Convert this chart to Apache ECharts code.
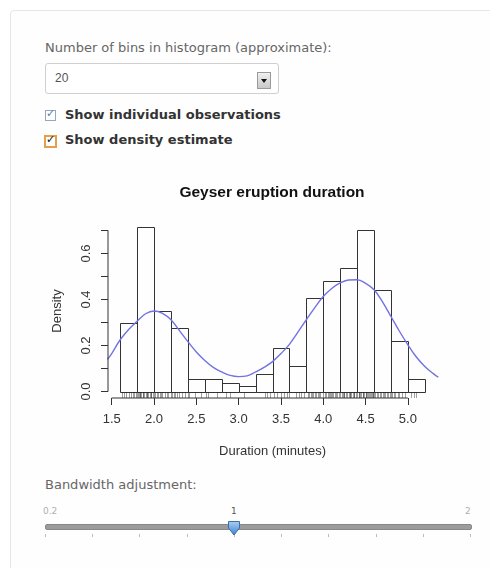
<!DOCTYPE html>
<html>
<head>
<meta charset="utf-8">
<script src="https://cdn.jsdelivr.net/npm/echarts@6/dist/echarts.min.js"></script>
<style>
  html, body { margin: 0; padding: 0; width: 490px; height: 568px; overflow: hidden; background: #fff; font-family: "DejaVu Sans", sans-serif; }
  .well { position: absolute; left: 10px; top: 10px; width: 500px; height: 580px; border: 1px solid #e6e6e6; border-radius: 4px; background: #fefefe; }
  .lbl { position: absolute; left: 45px; font-size: 13px; line-height: 16px; color: #666; white-space: nowrap; }
  .select { position: absolute; left: 45px; top: 63px; width: 232px; height: 29px; border: 1px solid #cfcfcf; border-radius: 3px; background: #fff; }
  .select span { position: absolute; left: 9px; top: 7px; font: 12px "Liberation Sans", sans-serif; color: #555; }
  .arrow { position: absolute; left: 211px; top: 8px; width: 12px; height: 15px; border: 1px solid #9a9a9a; background: linear-gradient(#f0f0f0, #c8c8c8); }
  .arrow:after { content: ""; position: absolute; left: 3px; top: 6px; border-left: 3px solid transparent; border-right: 3px solid transparent; border-top: 4px solid #111; }
  .chk { position: absolute; left: 45px; width: 9px; height: 9px; background: #fff; }
  .chk i { position: absolute; left: 0; top: -3px; font-style: normal; font-weight: bold; font-size: 11px; line-height: 12px; }
  .chklbl { position: absolute; left: 65px; font-weight: bold; font-size: 13px; line-height: 16px; color: #333; white-space: nowrap; }
  .sl { position: absolute; font: 9px "DejaVu Sans", sans-serif; color: #b0b0b0; }
  .track { position: absolute; left: 45px; top: 524px; width: 425px; height: 4px; border-radius: 2px; background: #9c9c9c; border: 1px solid #888; }
  .tick { position: absolute; top: 534px; width: 1px; height: 3px; background: #bdbdbd; }
  #chart { position: absolute; left: 0; top: 0; width: 490px; height: 568px; }
</style>
</head>
<body>
<div class="well"></div>
<div class="lbl" style="top:40px">Number of bins in histogram (approximate):</div>
<div class="select"><span>20</span><div class="arrow"></div></div>
<div class="chk" style="top:110px;border:1px solid #93a7c4"><i style="color:#5a7fb5">&#10003;</i></div>
<div class="chklbl" style="top:107px">Show individual observations</div>
<div class="chk" style="top:135px;border:2px solid #e3a04a;left:44px"><i style="color:#111;left:0">&#10003;</i></div>
<div class="chklbl" style="top:132px">Show density estimate</div>
<div class="lbl" style="top:477px">Bandwidth adjustment:</div>
<div id="slider"></div>
<div id="chart"></div>
<script>
// histogram: bin edges and density heights
const binEdges = [1.6, 1.8, 2.0, 2.2, 2.4, 2.6, 2.8, 3.0, 3.2, 3.4, 3.6, 3.8, 4.0, 4.2, 4.4, 4.6, 4.8, 5.0, 5.2];
const binDensity = [0.297, 0.717, 0.352, 0.277, 0.055, 0.055, 0.039, 0.022, 0.077, 0.188, 0.112, 0.407, 0.482, 0.535, 0.700, 0.443, 0.221, 0.055];

// density estimate curve (blue line)
const densityX = [1.45, 1.5, 1.6, 1.7, 1.8, 1.9, 2.0, 2.1, 2.2, 2.3, 2.4, 2.5, 2.6, 2.7, 2.8, 2.9, 3.0, 3.1, 3.2, 3.3, 3.4, 3.5, 3.6, 3.7, 3.8, 3.9, 4.0, 4.1, 4.2, 4.3, 4.4, 4.5, 4.6, 4.7, 4.8, 4.9, 5.0, 5.1, 5.2, 5.3, 5.36];
const densityY = [0.140, 0.165, 0.225, 0.270, 0.305, 0.338, 0.350, 0.340, 0.312, 0.265, 0.217, 0.172, 0.135, 0.105, 0.085, 0.070, 0.065, 0.068, 0.085, 0.105, 0.130, 0.165, 0.205, 0.258, 0.312, 0.365, 0.413, 0.448, 0.472, 0.485, 0.486, 0.470, 0.442, 0.390, 0.326, 0.262, 0.203, 0.150, 0.109, 0.078, 0.062];

// individual observations (rug), estimated positions
const rugX = [
  1.617, 1.65, 1.667, 1.70, 1.733, 1.75, 1.767, 1.783,
  1.80, 1.81, 1.817, 1.833, 1.84, 1.85, 1.867, 1.87, 1.883, 1.90, 1.917, 1.92, 1.933, 1.95, 1.967, 1.97, 1.983, 2.00,
  2.017, 2.033, 2.05, 2.067, 2.083, 2.10, 2.133, 2.15, 2.167, 2.20,
  2.217, 2.233, 2.25, 2.267, 2.30, 2.333, 2.367, 2.40,
  2.417, 2.483, 2.55, 2.617, 2.633, 2.75, 2.85, 2.90, 3.067,
  3.317, 3.333, 3.367, 3.417, 3.45, 3.50, 3.533, 3.567, 3.60,
  3.683, 3.717, 3.733, 3.767,
  3.817, 3.833, 3.85, 3.867, 3.883, 3.90, 3.917, 3.933, 3.95, 3.967, 4.00,
  4.017, 4.033, 4.05, 4.067, 4.083, 4.09, 4.10, 4.117, 4.133, 4.15, 4.167, 4.183, 4.20,
  4.217, 4.233, 4.24, 4.25, 4.267, 4.283, 4.30, 4.31, 4.317, 4.333, 4.35, 4.36, 4.367, 4.383, 4.40,
  4.417, 4.42, 4.433, 4.45, 4.467, 4.47, 4.483, 4.50, 4.51, 4.517, 4.533, 4.54, 4.55, 4.567, 4.57, 4.583, 4.59, 4.60,
  4.617, 4.633, 4.65, 4.667, 4.683, 4.70, 4.717, 4.733, 4.75, 4.767, 4.783, 4.80,
  4.817, 4.833, 4.85, 4.883, 4.90, 4.933, 4.967,
  5.033, 5.067, 5.10
];

const xTicks = [1.5, 2.0, 2.5, 3.0, 3.5, 4.0, 4.5, 5.0];
const yTicks = [0, 0.1, 0.2, 0.3, 0.4, 0.5, 0.6, 0.7];
const yLabels = [0, 0.2, 0.4, 0.6];

// slider (bandwidth adjustment) tick values
const sliderTicks = [0.2, 0.4, 0.6, 0.8, 1.0, 1.2, 1.4, 1.6, 1.8, 2.0];
const sliderValue = 1;

// R-style plot region: data range extended by 4%
const X_MIN = 1.456, X_MAX = 5.344;
const Y_MIN = -0.028, Y_MAX = 0.728;

const INK = '#333';
const FONT = '"Liberation Sans", Arial, sans-serif';

/* ---- slider drawn as plain html ---- */
(function drawSlider() {
  const el = document.getElementById('slider');
  const left = 45, width = 425;
  const lo = sliderTicks[0], hi = sliderTicks[sliderTicks.length - 1];
  const px = (v) => left + (v - lo) / (hi - lo) * width;
  let html = '<div class="track"></div>';
  sliderTicks.forEach((v) => { html += `<div class="tick" style="left:${Math.round(px(v))}px"></div>`; });
  html += `<div class="sl" style="left:${px(lo) - 2}px;top:506px">0.2</div>`;
  html += `<div class="sl" style="left:${px(sliderValue) - 3}px;top:506px;color:#555">1</div>`;
  html += `<div class="sl" style="left:${px(hi) - 5}px;top:506px">2</div>`;
  const hx = px(sliderValue);
  html += `<svg style="position:absolute;left:${hx - 7}px;top:520px" width="14" height="17">
    <defs><linearGradient id="hg" x1="0" y1="0" x2="0" y2="1"><stop offset="0" stop-color="#a9cdf0"/><stop offset="1" stop-color="#3f85d0"/></linearGradient></defs>
    <path d="M1.5 1.5 H12.5 V8 L7 15 L1.5 8 Z" fill="url(#hg)" stroke="#3a6fa8" stroke-width="1"/></svg>`;
  el.innerHTML = html;
})();

/* ---- chart ---- */
const chart = echarts.init(document.getElementById('chart'));
chart.setOption({
  animation: false,
  title: {
    text: 'Geyser eruption duration',
    left: 267, top: 180, textAlign: 'center',
    textStyle: { fontFamily: FONT, fontSize: 15.5, fontWeight: 'bold', color: '#111' },
  },
  grid: { left: 108, right: 53, top: 224, bottom: 170 },
  xAxis: {
    type: 'value', min: X_MIN, max: X_MAX,
    name: 'Duration (minutes)', nameLocation: 'middle', nameGap: 47,
    nameTextStyle: { fontFamily: FONT, fontSize: 13, color: INK },
    axisLine: { show: false, onZero: false },
    axisTick: { show: true, customValues: xTicks, length: 7, lineStyle: { color: INK } },
    axisLabel: { customValues: xTicks, formatter: (v) => v.toFixed(1), margin: 15, fontFamily: FONT, fontSize: 13, color: INK },
    splitLine: { show: false },
  },
  yAxis: {
    type: 'value', min: Y_MIN, max: Y_MAX,
    name: 'Density', nameLocation: 'middle', nameGap: 44,
    nameTextStyle: { fontFamily: FONT, fontSize: 13, color: INK },
    axisLine: { show: false, onZero: false },
    axisTick: { show: true, customValues: yTicks, length: 7, lineStyle: { color: INK } },
    axisLabel: { customValues: yLabels, rotate: 90, formatter: (v) => v.toFixed(1), margin: 15, fontFamily: FONT, fontSize: 13, color: INK },
    splitLine: { show: false },
  },
  series: [
    {
      // histogram bars (unfilled)
      type: 'custom',
      silent: true,
      data: binDensity.map((d, i) => [binEdges[i], binEdges[i + 1], d]),
      encode: { x: [0, 1], y: 2 },
      renderItem: (params, api) => {
        const p0 = api.coord([api.value(0), 0]);
        const p1 = api.coord([api.value(1), api.value(2)]);
        const x0 = Math.round(p0[0]) + 0.5, x1 = Math.round(p1[0]) + 0.5;
        const y0 = Math.round(p0[1]) + 0.5, y1 = Math.round(p1[1]) + 0.5;
        return {
          type: 'rect',
          shape: { x: x0, y: y1, width: x1 - x0, height: y0 - y1 },
          style: { fill: 'none', stroke: INK, lineWidth: 1 },
        };
      },
    },
    {
      // rug of individual observations
      type: 'custom',
      silent: true,
      clip: false,
      data: rugX.map((x) => [x]),
      encode: { x: 0 },
      renderItem: (params, api) => {
        const p = api.coord([api.value(0), Y_MIN]);
        const x = Math.round(p[0]) + 0.5;
        return {
          type: 'line',
          shape: { x1: x, y1: p[1], x2: x, y2: p[1] - 5.5 },
          style: { stroke: 'rgba(20,20,20,0.4)', lineWidth: 1 },
        };
      },
    },
    {
      // density estimate
      type: 'line',
      silent: true,
      clip: true,
      smooth: 0.4,
      symbol: 'none',
      data: densityX.map((x, i) => [x, densityY[i]]),
      lineStyle: { color: '#7272e2', width: 1.4 },
    },
    {
      // R-style x axis line, spanning first to last tick
      type: 'line', silent: true, clip: false, symbol: 'none',
      data: [[xTicks[0], Y_MIN], [xTicks[xTicks.length - 1], Y_MIN]],
      lineStyle: { color: INK, width: 1 },
    },
    {
      // R-style y axis line
      type: 'line', silent: true, clip: false, symbol: 'none',
      data: [[X_MIN, yTicks[0]], [X_MIN, yTicks[yTicks.length - 1]]],
      lineStyle: { color: INK, width: 1 },
    },
  ],
});
</script>
</body>
</html>
